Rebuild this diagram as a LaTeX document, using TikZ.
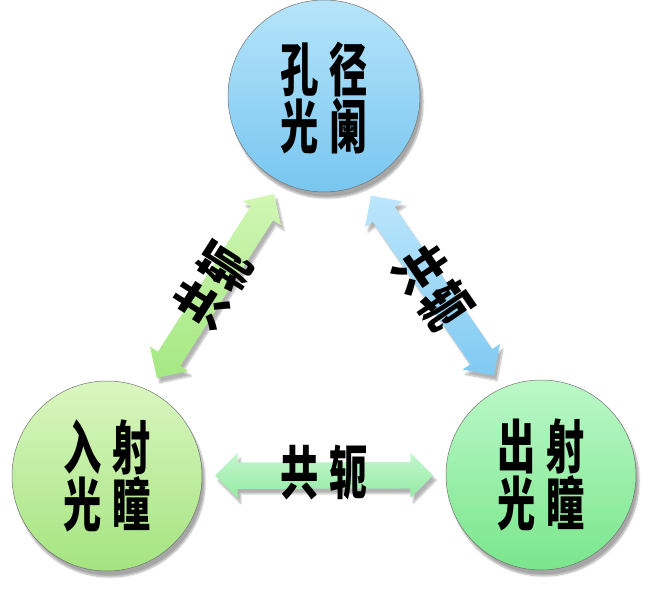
\documentclass[tikz,border=0pt]{standalone}
\usepackage{fontspec}
\usepackage{graphicx}
\newfontfamily\cjk{Noto Sans CJK SC}
\usetikzlibrary{shapes.arrows,shadows.blur}
\definecolor{topA}{RGB}{182,228,250}
\definecolor{topB}{RGB}{120,198,240}
\definecolor{leftA}{RGB}{218,246,192}
\definecolor{leftB}{RGB}{165,228,128}
\definecolor{rightA}{RGB}{188,248,200}
\definecolor{rightB}{RGB}{122,230,140}
\definecolor{garA}{RGB}{208,246,180}
\definecolor{garB}{RGB}{165,232,130}
\definecolor{barA}{RGB}{188,230,252}
\definecolor{barB}{RGB}{128,202,242}
\definecolor{harA}{RGB}{195,246,205}
\definecolor{harB}{RGB}{150,235,165}
\newcommand\sqz[1]{\scalebox{0.66}[1]{#1}}
\tikzset{
  pupil/.style={circle, draw=black!55, line width=0.5pt, minimum size=#1, inner sep=0pt,
    blur shadow={shadow xshift=3pt, shadow yshift=-6pt, shadow blur steps=10, shadow opacity=35}},
  lbl/.style={font=\cjk\bfseries\fontsize{58pt}{54pt}\selectfont, align=center, inner sep=0pt},
  bigarrow/.style={double arrow, double arrow head extend=9.5pt, minimum height=218pt,
    inner xsep=0pt, inner ysep=13pt, draw=none,
    blur shadow={shadow xshift=3pt, shadow yshift=-5pt, shadow blur steps=8, shadow opacity=30}},
}
\begin{document}
\begin{tikzpicture}[x=1pt,y=1pt]
\useasboundingbox (0,0) rectangle (648,592);
\coordinate (cT) at (324,496);
\coordinate (cL) at (107,116);
\coordinate (cR) at (541,117);
\path (cT) -- (cL) node[midway, sloped, rotate=-2.8, bigarrow, top color=garA, bottom color=garB] (arL) {};
\path (cT) -- (cR) node[midway, sloped, rotate=4.6, bigarrow, top color=barA, bottom color=barB] (arR) {};
\path (cL) -- (cR) node[midway, sloped, bigarrow, top color=harA, bottom color=harB] (arB) {};
\node[pupil=192pt, top color=topA, bottom color=topB] (T) at (cT) {};
\node[pupil=190pt, top color=leftA, bottom color=leftB] (L) at (cL) {};
\node[pupil=190pt, top color=rightA, bottom color=rightB] (R) at (cR) {};
\node[lbl] (tT) at ([yshift=-2pt]T.center) {\sqz{孔\hspace{16pt}径}\\\sqz{光\hspace{16pt}阑}};
\node[lbl] (tL) at (L.center) {\sqz{入\hspace{16pt}射}\\\sqz{光\hspace{16pt}瞳}};
\node[lbl] (tR) at (R.center) {\sqz{出\hspace{16pt}射}\\\sqz{光\hspace{16pt}瞳}};
\node[lbl, rotate=57.5] (kL) at ([xshift=-2pt]arL.center) {\sqz{共\hspace{9pt}轭}};
\node[lbl, rotate=-55.6] (kR) at ([yshift=-2pt]arR.center) {\sqz{共\hspace{9pt}轭}};
\node[lbl] (kB) at ([yshift=3pt]arB.center) {\sqz{共\hspace{16pt}轭}};
\end{tikzpicture}
\end{document}
